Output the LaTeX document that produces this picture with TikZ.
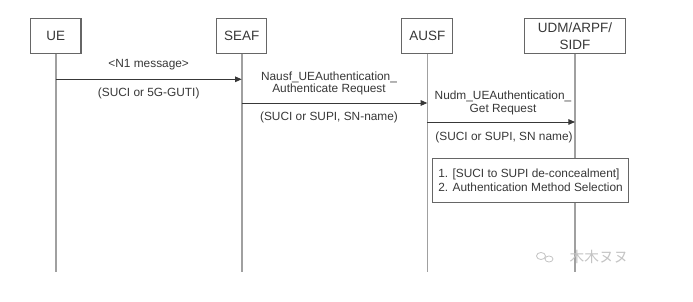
\documentclass[tikz,border=0pt]{standalone}
\usepackage{fontspec}
\setmainfont{Liberation Sans}
\newfontfamily\cjkfont{Noto Sans CJK JP}
\usetikzlibrary{arrows.meta}
\definecolor{ink}{HTML}{383838}
\definecolor{frame}{HTML}{666666}
\definecolor{life}{HTML}{A0A0A0}
\definecolor{wmgray}{HTML}{C4C4C4}
\begin{document}
\begin{tikzpicture}[x=0.75pt,y=-0.75pt,
  entity/.style={draw=frame,line width=0.9pt,fill=white,text=ink,
    minimum height=25.7pt,inner sep=0pt,align=center,
    font=\fontsize{10.1}{12.5}\selectfont},
  lifeline/.style={draw=life,line width=1.2pt},
  msg/.style={draw=ink,line width=0.7pt,-{Triangle[length=5pt,width=4.2pt]}},
  lbl/.style={text=ink,inner sep=0pt,align=center,font=\fontsize{8.9}{9.4}\selectfont},
  notebox/.style={draw=frame,fill=white,line width=0.8pt,text=ink,
    minimum width=147.5pt,minimum height=33.5pt,inner sep=0pt,align=left,
    font=\fontsize{8.9}{10.7}\selectfont}]
  % canvas
  \fill[white] (0,0) rectangle (693,302);
  \useasboundingbox (0,0) rectangle (693,302);

  % participants
  \node[entity,minimum width=38pt]   (ue)   at (55.7,36) {UE};
  \node[entity,minimum width=37.5pt] (seaf) at (241.7,36) {SEAF};
  \node[entity,minimum width=38.2pt] (ausf) at (427.3,36) {AUSF};
  \node[entity,minimum width=76pt]   (udm)  at (575,36) {UDM/ARPF/\\SIDF};

  % lifeline ends
  \coordinate (ueEnd)   at (ue.south |- 0,272);
  \coordinate (seafEnd) at (seaf.south |- 0,272);
  \coordinate (ausfEnd) at (ausf.south |- 0,272);
  \coordinate (udmEnd)  at (udm.south |- 0,272);
  \draw[lifeline] (ue.south) -- (ueEnd);
  \draw[lifeline] (seaf.south) -- (seafEnd);
  \draw[lifeline] (ausf.south) -- (ausfEnd);
  \draw[lifeline] (udm.south) -- (udmEnd);

  % message anchors on the lifelines
  \coordinate (m1a) at (ue.south |- 0,79.3);
  \coordinate (m1b) at (seaf.south |- 0,79.3);
  \coordinate (m2a) at (seaf.south |- 0,103);
  \coordinate (m2b) at (ausf.south |- 0,103);
  \coordinate (m3a) at (ausf.south |- 0,122);
  \coordinate (m3b) at (udm.south |- 0,122);

  % UE -> SEAF
  \draw[msg] (m1a) -- (m1b);
  \node[lbl] (m1top) at (148.7,64.3) {<N1 message>};
  \node[lbl] (m1bot) at (148.7,93.3) {(SUCI or 5G-GUTI)};

  % SEAF -> AUSF
  \draw[msg] (m2a) -- (m2b);
  \node[lbl] (m2top) at (329,83.5) {Nausf\_UEAuthentication\_\\Authenticate Request};
  \node[lbl] (m2bot) at (329,117.5) {(SUCI or SUPI, SN-name)};

  % AUSF -> UDM
  \draw[msg] (m3a) -- (m3b);
  \node[lbl] (m3top) at (503,103) {Nudm\_UEAuthentication\_\\Get Request};
  \node[lbl] (m3bot) at (504,137.7) {(SUCI or SUPI, SN name)};

  % processing at UDM
  \node[notebox] (proc) at (530.6,180.6)
    {1. [SUCI to SUPI de-concealment]\\2. Authentication Method Selection};

  % account mark
  \node[text=wmgray,inner sep=0pt,font=\cjkfont\fontsize{11}{11}\selectfont]
    (acct) at (599,257) {木木ヌヌ};
  \draw[wmgray,line width=0.6pt] (541,256) ellipse (4.5 and 3.5);
  \draw[wmgray,line width=0.6pt] (549,259) ellipse (4 and 3);
\end{tikzpicture}
\end{document}
